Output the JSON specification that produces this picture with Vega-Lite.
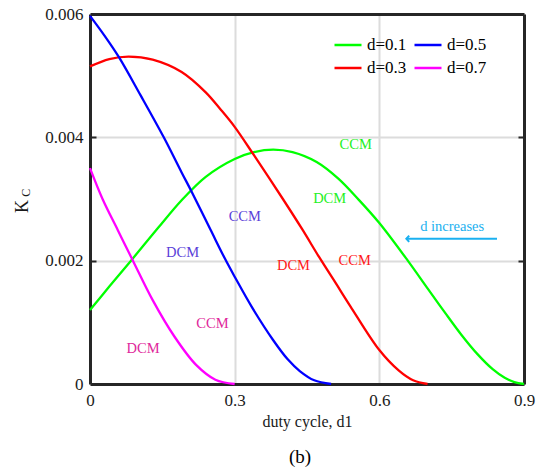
{
  "$schema": "https://vega.github.io/schema/vega-lite/v6.json",
  "width": 434,
  "height": 370,
  "autosize": "none",
  "padding": {"left": 90, "top": 14, "right": 23, "bottom": 89},
  "background": "white",
  "config": {
    "font": "Liberation Serif",
    "view": {"stroke": null},
    "axis": {
      "domain": true,
      "domainColor": "#262626",
      "domainWidth": 3,
      "labelFont": "Liberation Serif",
      "labelFontSize": 17,
      "labelColor": "#1a1a1a",
      "labelFlush": false,
      "titleFont": "Liberation Serif",
      "titleFontWeight": "normal",
      "titleColor": "#1a1a1a",
      "gridColor": "#dcdcdc",
      "gridWidth": 2,
      "tickColor": "#262626",
      "tickWidth": 2
    }
  },
  "title": {
    "text": "(b)",
    "orient": "bottom",
    "font": "Liberation Serif",
    "fontSize": 19,
    "fontWeight": "normal",
    "color": "#000000",
    "offset": 19,
    "dx": -7
  },
  "datasets": {
    "curves": [
      {"d": "d=0.1", "d1": 0, "kc": 0.0012},
      {"d": "d=0.1", "d1": 0.04, "kc": 0.00158},
      {"d": "d=0.1", "d1": 0.085, "kc": 0.002},
      {"d": "d=0.1", "d1": 0.14, "kc": 0.00252},
      {"d": "d=0.1", "d1": 0.19, "kc": 0.00298},
      {"d": "d=0.1", "d1": 0.24, "kc": 0.00336},
      {"d": "d=0.1", "d1": 0.3, "kc": 0.00365},
      {"d": "d=0.1", "d1": 0.34, "kc": 0.00376},
      {"d": "d=0.1", "d1": 0.38, "kc": 0.0038},
      {"d": "d=0.1", "d1": 0.42, "kc": 0.00376},
      {"d": "d=0.1", "d1": 0.47, "kc": 0.0036},
      {"d": "d=0.1", "d1": 0.515, "kc": 0.00333},
      {"d": "d=0.1", "d1": 0.557, "kc": 0.00299},
      {"d": "d=0.1", "d1": 0.6, "kc": 0.00261},
      {"d": "d=0.1", "d1": 0.659, "kc": 0.002},
      {"d": "d=0.1", "d1": 0.7, "kc": 0.00155},
      {"d": "d=0.1", "d1": 0.735, "kc": 0.00117},
      {"d": "d=0.1", "d1": 0.77, "kc": 0.0008},
      {"d": "d=0.1", "d1": 0.804, "kc": 0.00048},
      {"d": "d=0.1", "d1": 0.835, "kc": 0.00024},
      {"d": "d=0.1", "d1": 0.86, "kc": 0.0001},
      {"d": "d=0.1", "d1": 0.88, "kc": 0.00003},
      {"d": "d=0.1", "d1": 0.9, "kc": 0},
      {"d": "d=0.3", "d1": 0, "kc": 0.00515},
      {"d": "d=0.3", "d1": 0.04, "kc": 0.00527},
      {"d": "d=0.3", "d1": 0.08, "kc": 0.00531},
      {"d": "d=0.3", "d1": 0.13, "kc": 0.00526},
      {"d": "d=0.3", "d1": 0.19, "kc": 0.00506},
      {"d": "d=0.3", "d1": 0.24, "kc": 0.00473},
      {"d": "d=0.3", "d1": 0.27, "kc": 0.00446},
      {"d": "d=0.3", "d1": 0.3, "kc": 0.00417},
      {"d": "d=0.3", "d1": 0.34, "kc": 0.00371},
      {"d": "d=0.3", "d1": 0.4, "kc": 0.003},
      {"d": "d=0.3", "d1": 0.44, "kc": 0.00251},
      {"d": "d=0.3", "d1": 0.475, "kc": 0.00206},
      {"d": "d=0.3", "d1": 0.51, "kc": 0.00163},
      {"d": "d=0.3", "d1": 0.54, "kc": 0.00126},
      {"d": "d=0.3", "d1": 0.6, "kc": 0.00055},
      {"d": "d=0.3", "d1": 0.64, "kc": 0.00022},
      {"d": "d=0.3", "d1": 0.67, "kc": 0.00006},
      {"d": "d=0.3", "d1": 0.7, "kc": 0},
      {"d": "d=0.5", "d1": 0, "kc": 0.00597},
      {"d": "d=0.5", "d1": 0.03, "kc": 0.00565},
      {"d": "d=0.5", "d1": 0.06, "kc": 0.0053},
      {"d": "d=0.5", "d1": 0.105, "kc": 0.00468},
      {"d": "d=0.5", "d1": 0.153, "kc": 0.004},
      {"d": "d=0.5", "d1": 0.19, "kc": 0.00343},
      {"d": "d=0.5", "d1": 0.21, "kc": 0.00313},
      {"d": "d=0.5", "d1": 0.25, "kc": 0.0025},
      {"d": "d=0.5", "d1": 0.28, "kc": 0.00203},
      {"d": "d=0.5", "d1": 0.3, "kc": 0.00174},
      {"d": "d=0.5", "d1": 0.337, "kc": 0.00123},
      {"d": "d=0.5", "d1": 0.38, "kc": 0.00071},
      {"d": "d=0.5", "d1": 0.41, "kc": 0.0004},
      {"d": "d=0.5", "d1": 0.435, "kc": 0.00021},
      {"d": "d=0.5", "d1": 0.465, "kc": 0.00006},
      {"d": "d=0.5", "d1": 0.5, "kc": 0},
      {"d": "d=0.7", "d1": 0, "kc": 0.0035},
      {"d": "d=0.7", "d1": 0.026, "kc": 0.003},
      {"d": "d=0.7", "d1": 0.058, "kc": 0.00249},
      {"d": "d=0.7", "d1": 0.089, "kc": 0.002},
      {"d": "d=0.7", "d1": 0.13, "kc": 0.00136},
      {"d": "d=0.7", "d1": 0.175, "kc": 0.00077},
      {"d": "d=0.7", "d1": 0.22, "kc": 0.00031},
      {"d": "d=0.7", "d1": 0.26, "kc": 0.00007},
      {"d": "d=0.7", "d1": 0.3, "kc": 0}
    ],
    "modes": [
      {"d": "d=0.1", "mode": "CCM", "d1": 0.551, "kc": 0.00388},
      {"d": "d=0.1", "mode": "DCM", "d1": 0.497, "kc": 0.003},
      {"d": "d=0.5", "mode": "CCM", "d1": 0.321, "kc": 0.00271},
      {"d": "d=0.5", "mode": "DCM", "d1": 0.192, "kc": 0.00212},
      {"d": "d=0.3", "mode": "DCM", "d1": 0.422, "kc": 0.00191},
      {"d": "d=0.3", "mode": "CCM", "d1": 0.549, "kc": 0.002},
      {"d": "d=0.7", "mode": "CCM", "d1": 0.254, "kc": 0.00097},
      {"d": "d=0.7", "mode": "DCM", "d1": 0.11, "kc": 0.00057}
    ],
    "trend": [
      {"label": "d increases", "d1": 0.751, "kc": 0.00254, "tip": 0.656, "tail": 0.844, "kcArrow": 0.002355}
    ]
  },
  "resolve": {
    "scale": {"color": "independent"},
    "axis": {"x": "independent", "y": "independent"}
  },
  "layer": [
    {
      "data": {"name": "curves"},
      "mark": {"type": "line", "strokeWidth": 2.3, "interpolate": "catmull-rom"},
      "encoding": {
        "x": {
          "field": "d1", "type": "quantitative",
          "scale": {"domain": [0, 0.9], "nice": false, "zero": false},
          "axis": {
            "orient": "bottom",
            "values": [0, 0.3, 0.6, 0.9],
            "labelExpr": "datum.value == 0 ? '0' : format(datum.value, '.1f')",
            "labelPadding": 8,
            "ticks": false,
            "title": "duty cycle, d1",
            "titleFontSize": 16,
            "titlePadding": 5
          }
        },
        "y": {
          "field": "kc", "type": "quantitative",
          "scale": {"domain": [0, 0.006], "nice": false},
          "axis": {
            "orient": "left",
            "values": [0, 0.002, 0.004, 0.006],
            "labelExpr": "datum.value == 0 ? '0' : format(datum.value, '.3f')",
            "labelPadding": 7,
            "ticks": false,
            "title": "K",
            "titleFontSize": 18,
            "titleAngle": 270,
            "titleX": -59,
            "titleY": 192,
            "titleAlign": "center",
            "titleBaseline": "bottom"
          }
        },
        "color": {
          "field": "d", "type": "nominal",
          "scale": {
            "domain": ["d=0.1", "d=0.3", "d=0.5", "d=0.7"],
            "range": ["#00ff00", "#ff0000", "#0000ff", "#ff00ff"]
          },
          "legend": {
            "orient": "none",
            "legendX": 243,
            "legendY": 16,
            "columns": 2,
            "direction": "vertical",
            "title": null,
            "padding": 0,
            "symbolType": "stroke",
            "symbolSize": 729,
            "symbolStrokeWidth": 2.5,
            "labelFont": "Liberation Serif",
            "labelFontSize": 17,
            "labelColor": "#000000",
            "labelOffset": 4,
            "columnPadding": 2,
            "rowPadding": -6
          }
        }
      }
    },
    {
      "data": {"name": "modes"},
      "mark": {"type": "text", "font": "Liberation Serif", "fontSize": 14.5, "align": "center", "baseline": "middle"},
      "encoding": {
        "x": {
          "field": "d1", "type": "quantitative",
          "scale": {"domain": [0, 0.9], "nice": false, "zero": false},
          "axis": {"orient": "top", "values": [0.3, 0.6], "labels": false, "grid": false, "ticks": false, "title": null}
        },
        "y": {
          "field": "kc", "type": "quantitative",
          "scale": {"domain": [0, 0.006], "nice": false},
          "axis": {"orient": "right", "values": [0.002, 0.004], "labels": false, "grid": false, "ticks": true, "tickSize": -6, "title": null}
        },
        "text": {"field": "mode"},
        "color": {
          "field": "d", "type": "nominal",
          "scale": {
            "domain": ["d=0.1", "d=0.3", "d=0.5", "d=0.7"],
            "range": ["#1ef01e", "#ff1a1a", "#5b3fd9", "#e0289b"]
          },
          "legend": null
        }
      }
    },
    {
      "data": {"name": "trend"},
      "mark": {"type": "rule", "color": "#1ab0f0", "strokeWidth": 2},
      "encoding": {
        "x": {"field": "tip", "type": "quantitative", "axis": null},
        "x2": {"field": "tail"},
        "y": {
          "field": "kcArrow", "type": "quantitative",
          "axis": {"orient": "left", "values": [0.002, 0.004], "labels": false, "grid": false, "domain": false, "ticks": true, "tickSize": -6, "title": null}
        }
      }
    },
    {
      "data": {"name": "trend"},
      "mark": {"type": "point", "shape": "M 0.9 -1 L 0 0 L 0.9 1", "filled": false, "color": "#1ab0f0", "strokeWidth": 2, "size": 40, "opacity": 1},
      "encoding": {
        "x": {"field": "tip", "type": "quantitative", "axis": null},
        "y": {"field": "kcArrow", "type": "quantitative", "axis": null}
      }
    },
    {
      "data": {"name": "trend"},
      "mark": {"type": "text", "font": "Liberation Serif", "fontSize": 14.5, "color": "#1ab0f0", "align": "center", "baseline": "middle"},
      "encoding": {
        "x": {"field": "d1", "type": "quantitative", "axis": null},
        "y": {"field": "kc", "type": "quantitative", "axis": null},
        "text": {"field": "label"}
      }
    },
    {
      "data": {"values": [{"sub": "C", "d1": -0.119, "kc": 0.0031}]},
      "mark": {"type": "text", "font": "Liberation Serif", "fontSize": 12, "color": "#1a1a1a", "angle": 270, "align": "center", "baseline": "bottom"},
      "encoding": {
        "x": {"field": "d1", "type": "quantitative", "axis": null},
        "y": {"field": "kc", "type": "quantitative", "axis": null},
        "text": {"field": "sub"}
      }
    }
  ]
}
